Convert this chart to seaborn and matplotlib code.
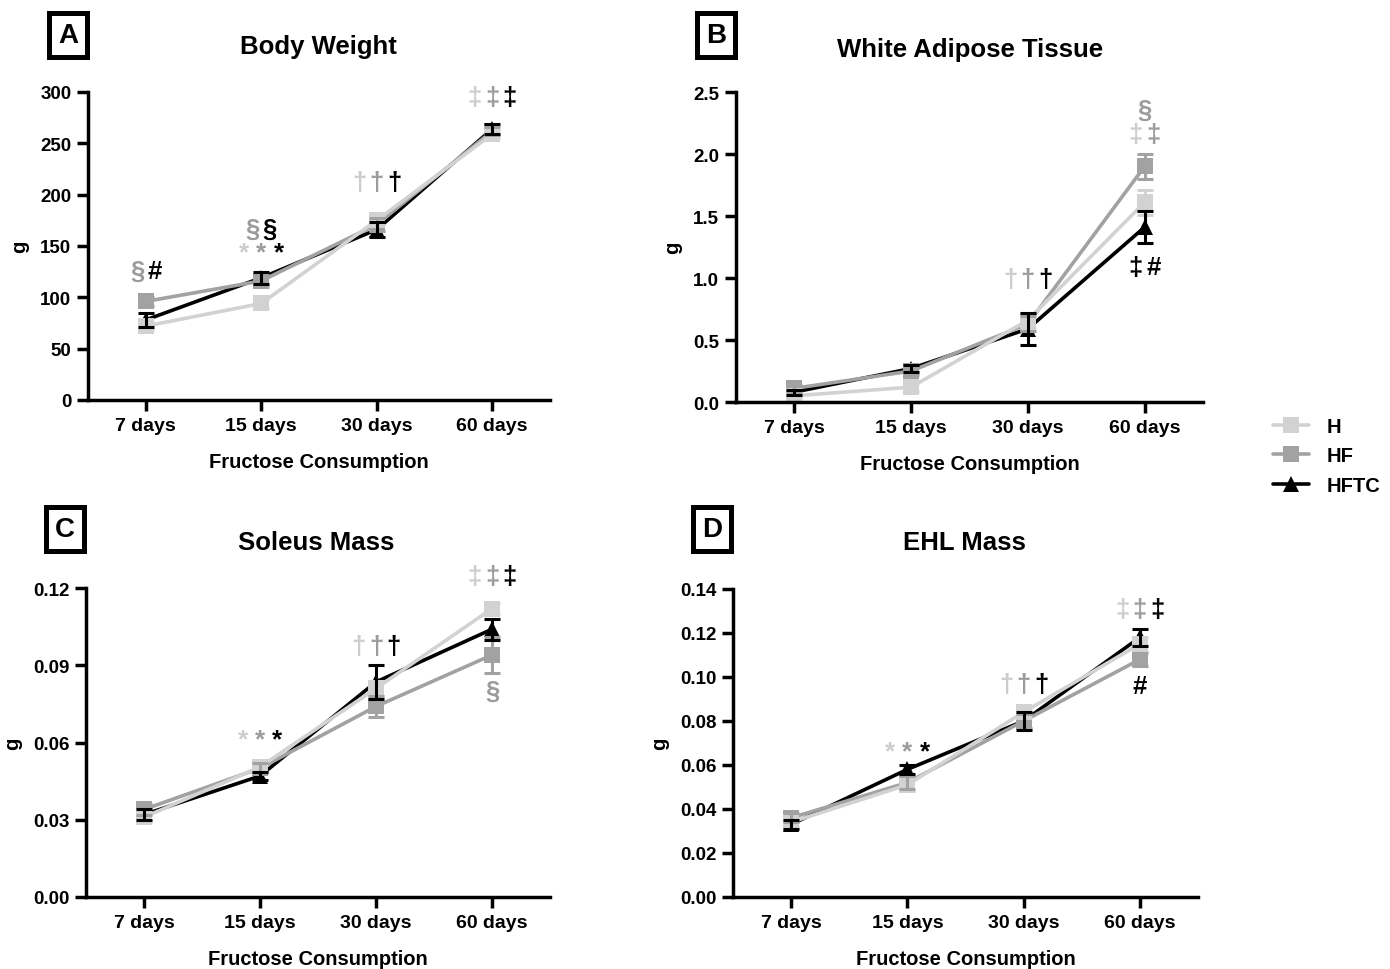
import numpy as np
import pandas as pd
import matplotlib
matplotlib.use("Agg")
import matplotlib.pyplot as plt
from matplotlib.lines import Line2D
import seaborn as sns

# ---------------- data ----------------
days = ["7 days", "15 days", "30 days", "60 days"]
groups = ["H", "HF", "HFTC"]

bw_H = [72, 94, 175, 259]
bw_HF = [96, 116, 171, 262]
bw_HFTC = [78, 119, 166, 264]
bw_H_err = [4, 4, 5, 4]
bw_HF_err = [4, 6, 6, 4]
bw_HFTC_err = [7, 6, 7, 5]

wat_H = [0.05, 0.12, 0.66, 1.61]
wat_HF = [0.11, 0.25, 0.63, 1.90]
wat_HFTC = [0.08, 0.27, 0.59, 1.41]
wat_H_err = [0.02, 0.03, 0.06, 0.10]
wat_HF_err = [0.03, 0.03, 0.06, 0.10]
wat_HFTC_err = [0.02, 0.03, 0.13, 0.13]

sol_H = [0.031, 0.0505, 0.081, 0.112]
sol_HF = [0.034, 0.050, 0.074, 0.094]
sol_HFTC = [0.032, 0.047, 0.0835, 0.104]
sol_H_err = [0.002, 0.002, 0.003, 0.002]
sol_HF_err = [0.002, 0.002, 0.004, 0.007]
sol_HFTC_err = [0.002, 0.0015, 0.0065, 0.004]

ehl_H = [0.034, 0.051, 0.084, 0.115]
ehl_HF = [0.036, 0.052, 0.080, 0.108]
ehl_HFTC = [0.033, 0.058, 0.080, 0.118]
ehl_H_err = [0.002, 0.003, 0.002, 0.003]
ehl_HF_err = [0.002, 0.003, 0.003, 0.003]
ehl_HFTC_err = [0.002, 0.002, 0.004, 0.004]

# ---------------- style ----------------
sns.set_theme(style="ticks")
plt.rcParams["font.family"] = ["Liberation Sans", "DejaVu Sans"]
plt.rcParams["font.weight"] = "bold"
for k in ["text.color", "axes.labelcolor", "xtick.color", "ytick.color",
          "axes.edgecolor"]:
    plt.rcParams[k] = "black"

colors = {"H": "#d2d2d2", "HF": "#a2a2a2", "HFTC": "#000000"}
markers = {"H": "s", "HF": "s", "HFTC": "^"}
sym_col = {"l": "#cdcdcd", "m": "#9c9c9c", "k": "#000000"}

fig = plt.figure(figsize=(13.9, 9.7), dpi=100)

W, H = 1390, 970
def axes_px(l, r, b, t):
    return fig.add_axes([l / W, 1 - b / H, (r - l) / W, (b - t) / H])

panels = [
    dict(rect=(88, 550, 401, 93), title="Body Weight", letter="A",
         vals=(bw_H, bw_HF, bw_HFTC), errs=(bw_H_err, bw_HF_err, bw_HFTC_err),
         ticks=np.arange(0, 301, 50), fmt="{:.0f}", ylim=300,
         title_xy=(318, 47), letter_xy=(68, 36),
         ann=[(0, 126, "§#", "mk"), (1, 167, "§§", "mk"), (1, 144, "***", "lmk"),
              (2, 212, "†††", "lmk"), (3, 295, "‡‡‡", "lmk")]),
    dict(rect=(736, 1203, 403, 93), title="White Adipose Tissue", letter="B",
         vals=(wat_H, wat_HF, wat_HFTC), errs=(wat_H_err, wat_HF_err, wat_HFTC_err),
         ticks=np.arange(0, 2.51, 0.5), fmt="{:.1f}", ylim=2.5,
         title_xy=(970, 50), letter_xy=(716, 36),
         ann=[(2, 0.99, "†††", "lmk"), (3, 2.36, "§", "m"), (3, 2.16, "‡‡", "lm"),
              (3, 1.09, "‡#", "kk")]),
    dict(rect=(86, 550, 898, 589), title="Soleus Mass", letter="C",
         vals=(sol_H, sol_HF, sol_HFTC), errs=(sol_H_err, sol_HF_err, sol_HFTC_err),
         ticks=np.arange(0, 0.1201, 0.03), fmt="{:.2f}", ylim=0.12,
         title_xy=(316, 543), letter_xy=(65, 530),
         ann=[(1, 0.0614, "***", "lmk"), (2, 0.0975, "†††", "lmk"),
              (3, 0.1245, "‡‡‡", "lmk"), (3, 0.080, "§", "m")]),
    dict(rect=(733, 1198, 898, 590), title="EHL Mass", letter="D",
         vals=(ehl_H, ehl_HF, ehl_HFTC), errs=(ehl_H_err, ehl_HF_err, ehl_HFTC_err),
         ticks=np.arange(0, 0.1401, 0.02), fmt="{:.2f}", ylim=0.14,
         title_xy=(964, 543), letter_xy=(712, 530),
         ann=[(1, 0.066, "***", "lmk"), (2, 0.0968, "†††", "lmk"),
              (3, 0.131, "‡‡‡", "lmk"), (3, 0.096, "#", "k")]),
]

x_pos = np.arange(len(days))

for p in panels:
    ax = axes_px(*p["rect"])
    rows = []
    for g, v in zip(groups, p["vals"]):
        for i, val in enumerate(v):
            rows.append({"pos": x_pos[i], "value": val, "group": g})
    df = pd.DataFrame(rows)
    sns.lineplot(data=df, x="pos", y="value", hue="group", style="group",
                 hue_order=["HFTC", "HF", "H"], style_order=["HFTC", "HF", "H"],
                 palette=colors, markers=markers, dashes=False,
                 markersize=11, markeredgewidth=0, linewidth=2.6,
                 legend=False, ax=ax, errorbar=None)
    for g, v, e in zip(groups, p["vals"], p["errs"]):
        ax.errorbar(x_pos, v, yerr=e, fmt="none", ecolor=colors[g],
                    elinewidth=2.2, capsize=6, capthick=2.2, zorder=3)

    ax.set_xlim(-0.5, 3.5)
    ax.set_ylim(0, p["ylim"])
    ax.set_xticks(x_pos)
    ax.set_xticklabels(days, fontsize=14, fontweight="bold")
    ax.set_yticks(p["ticks"])
    ax.set_yticklabels([p["fmt"].format(t) for t in p["ticks"]], fontsize=13.5,
                       fontweight="bold")
    ax.tick_params(axis="both", direction="out", length=8, width=2.5,
                   color="black", labelcolor="black", pad=4)
    for s in ["top", "right"]:
        ax.spines[s].set_visible(False)
    for s in ["left", "bottom"]:
        ax.spines[s].set_linewidth(2.5)
        ax.spines[s].set_color("black")
    ax.set_xlabel("Fructose Consumption", fontsize=14.5, fontweight="bold",
                  labelpad=13, color="black")
    ax.set_ylabel("g", fontsize=14.5, fontweight="bold", labelpad=8,
                  color="black")

    fig.text(p["title_xy"][0] / W, 1 - p["title_xy"][1] / H, p["title"],
             ha="center", va="center", fontsize=18.5, fontweight="bold",
             color="black")
    fig.text(p["letter_xy"][0] / W, 1 - p["letter_xy"][1] / H, p["letter"],
             ha="center", va="center", fontsize=20, fontweight="bold",
             color="black",
             bbox=dict(boxstyle="square,pad=0.32", fc="white", ec="black", lw=3.6))

    step = 0.15
    for idx, yv, sym, cols in p["ann"]:
        n = len(sym)
        for k, (ch, c) in enumerate(zip(sym, cols)):
            off = (k - (n - 1) / 2) * step
            ax.text(idx + off, yv, ch, color=sym_col[c], ha="center",
                    va="center", fontsize=18.5, fontweight="bold", clip_on=False)

handles = [Line2D([0], [0], color=colors[g], marker=markers[g], markersize=11,
                  markeredgewidth=0, linewidth=2.6) for g in groups]
fig.legend(handles, groups, loc="center left",
           bbox_to_anchor=(1255 / W, 1 - 457 / H), frameon=False,
           prop=dict(size=14.5, weight="bold"), handlelength=1.8,
           labelspacing=0.5, handletextpad=0.85, labelcolor="black")

fig.savefig("out.png", dpi=100, facecolor="white")
